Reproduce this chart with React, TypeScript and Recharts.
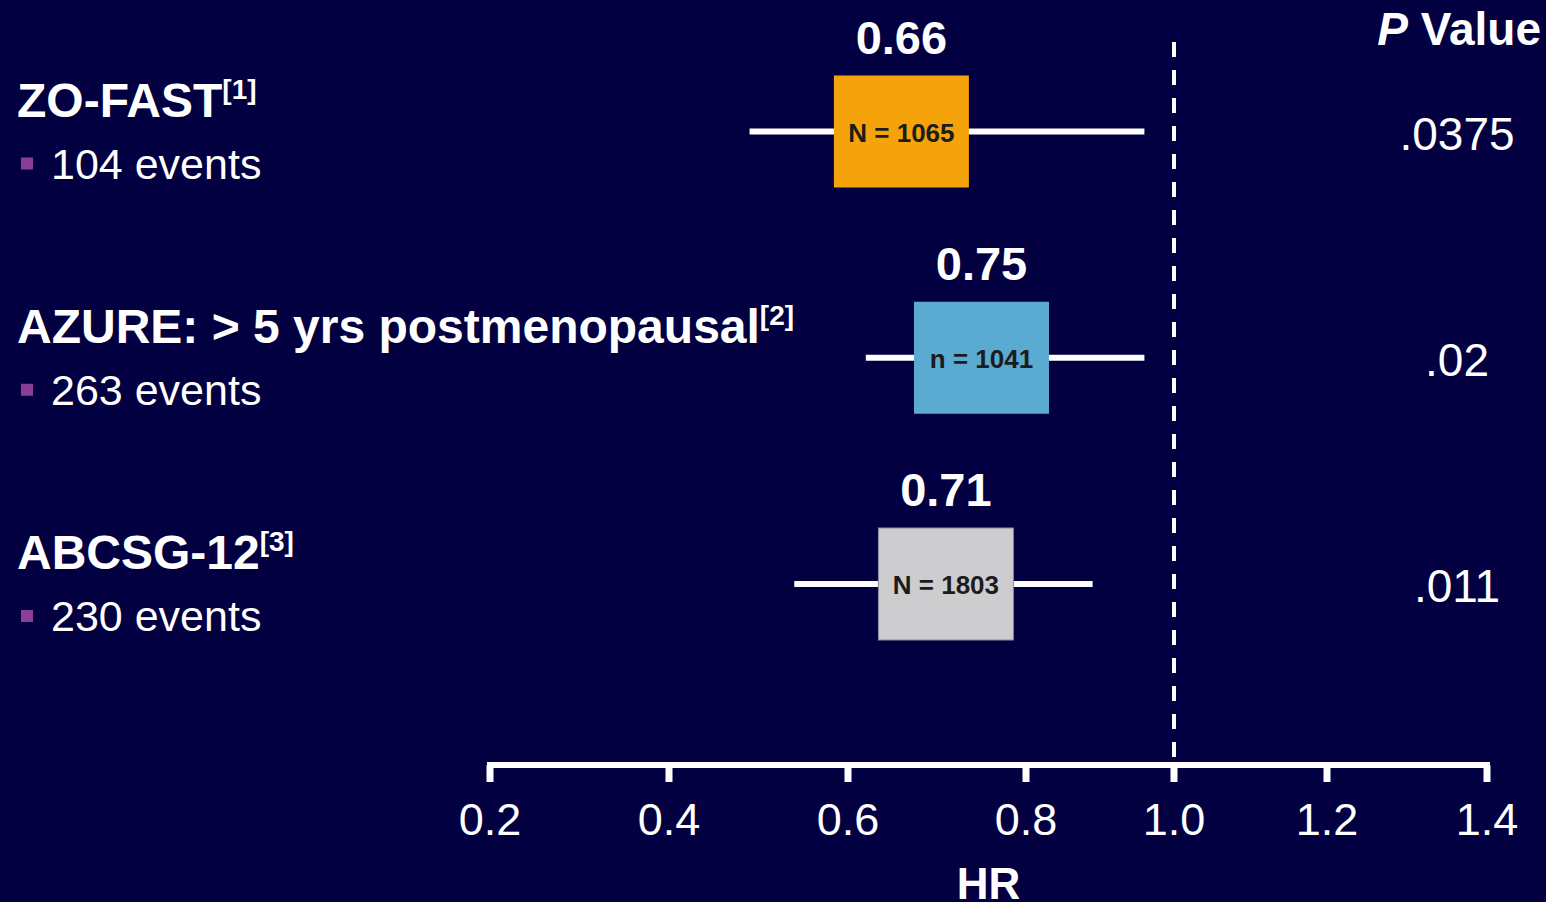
import React from "react";
import { ComposedChart, Scatter, XAxis, YAxis, ReferenceLine } from "recharts";

// studies, top to bottom
const ROWS = [1, 2, 3];
const STUDIES = ["ZO-FAST", "AZURE: > 5 yrs postmenopausal", "ABCSG-12"];
const REFS = ["[1]", "[2]", "[3]"];
const EVENTS = [104, 263, 230];
const SAMPLE = ["N = 1065", "n = 1041", "N = 1803"];
const HR = [0.66, 0.75, 0.71];
const CI_LOW = [0.49, 0.62, 0.54];
const CI_HIGH = [0.96, 0.96, 0.89];
const P_VALUES = [".0375", ".02", ".011"];
const HR_TICKS = [0.2, 0.4, 0.6, 0.8, 1.0, 1.2, 1.4];

// the slide's HR axis is not evenly spaced: tick offsets along the axis (px)
const TICK_OFFSETS = [0, 179, 358, 536, 684, 837, 997];

const BG = "#020040";
const WHITE = "#ffffff";
const BOX_FILL = ["#f5a30a", "#5aaad2", "#cdcdd0"];
const BOX_STROKE = ["none", "none", "#8a8aa0"];
const BULLET = "#8c3c9b";
const BOX_W = 135;
const BOX_H = 112;
const P_X = 1457;

// piecewise-linear scale through the axis ticks, shaped like a d3 scale
function hrScale(): any {
  let domain = [HR_TICKS[0], HR_TICKS[HR_TICKS.length - 1]];
  let range = [0, 1];
  const total = TICK_OFFSETS[TICK_OFFSETS.length - 1];
  const frac = (v: number) => {
    let i = 0;
    while (i < HR_TICKS.length - 2 && v > HR_TICKS[i + 1]) i++;
    const t = (v - HR_TICKS[i]) / (HR_TICKS[i + 1] - HR_TICKS[i]);
    return (TICK_OFFSETS[i] + t * (TICK_OFFSETS[i + 1] - TICK_OFFSETS[i])) / total;
  };
  const scale: any = (v: number) => range[0] + frac(v) * (range[1] - range[0]);
  scale.domain = (d?: number[]) => {
    if (!d) return domain.slice();
    domain = d.slice();
    return scale;
  };
  scale.range = (r?: number[]) => {
    if (!r) return range.slice();
    range = r.slice();
    return scale;
  };
  scale.invert = (px: number) => {
    const f = ((px - range[0]) / (range[1] - range[0])) * total;
    let i = 0;
    while (i < TICK_OFFSETS.length - 2 && f > TICK_OFFSETS[i + 1]) i++;
    const t = (f - TICK_OFFSETS[i]) / (TICK_OFFSETS[i + 1] - TICK_OFFSETS[i]);
    return HR_TICKS[i] + t * (HR_TICKS[i + 1] - HR_TICKS[i]);
  };
  scale.ticks = () => HR_TICKS.slice();
  scale.tickFormat = () => (v: number) => String(v);
  scale.nice = () => scale;
  scale.clamp = () => scale;
  scale.copy = () => hrScale().domain(domain).range(range);
  return scale;
}

const HR_SCALE = hrScale();

function StudyTick(props: any) {
  const { y, payload } = props;
  const i = ROWS.indexOf(payload.value);
  if (i < 0) return null;
  return (
    <g>
      <text x={17} y={y - 15} fontSize={48} fontWeight="bold" fill={WHITE}>
        {STUDIES[i]}
        <tspan dy={-18} fontSize={28}>
          {REFS[i]}
        </tspan>
      </text>
      <rect x={21} y={y + 26} width={12} height={12} fill={BULLET} />
      <text x={51} y={y + 47} fontSize={43} fill={WHITE}>
        {EVENTS[i] + " events"}
      </text>
    </g>
  );
}

function PValueTick(props: any) {
  const { y, payload } = props;
  const i = ROWS.indexOf(payload.value);
  if (i < 0) return null;
  return (
    <text x={P_X} y={y + 18} textAnchor="middle" fontSize={46} fill={WHITE}>
      {P_VALUES[i]}
    </text>
  );
}

function StudyBox(props: any) {
  const { cx, cy, payload } = props;
  const i = payload.idx;
  return (
    <g>
      <rect
        x={cx - BOX_W / 2}
        y={cy - BOX_H / 2}
        width={BOX_W}
        height={BOX_H}
        fill={BOX_FILL[i]}
        stroke={BOX_STROKE[i]}
        strokeWidth={1}
      />
      <text x={cx} y={cy + 10} textAnchor="middle" fontSize={26} fontWeight="bold" fill="#1c1c1c">
        {SAMPLE[i]}
      </text>
      <text x={cx} y={cy - BOX_H / 2 - 22} textAnchor="middle" fontSize={47} fontWeight="bold" fill={WHITE}>
        {HR[i].toFixed(2)}
      </text>
    </g>
  );
}

const boxData = ROWS.map((row, idx) => ({ hr: HR[idx], row, idx }));

export default function App() {
  return (
    <div
      style={{
        position: "absolute",
        left: 0,
        top: 0,
        width: 1546,
        height: 902,
        background: BG,
        fontFamily: '"Liberation Sans", Arial, sans-serif',
      }}
    >
      <ComposedChart width={1546} height={902} margin={{ top: 41, right: 0, bottom: 0, left: 0 }}>
        <XAxis
          type="number"
          dataKey="hr"
          scale={HR_SCALE}
          domain={[0.2, 1.4]}
          ticks={HR_TICKS}
          interval={0}
          allowDataOverflow
          tickFormatter={(v: number) => v.toFixed(1)}
          height={137}
          axisLine={{ stroke: WHITE, strokeWidth: 6, strokeLinecap: "square" }}
          tickLine={{ stroke: WHITE, strokeWidth: 7 }}
          tickSize={17}
          tickMargin={21}
          tick={{ fill: WHITE, fontSize: 45 }}
          label={{ value: "HR", position: "insideBottom", offset: 3, fill: WHITE, fontSize: 44, fontWeight: "bold" }}
        />
        <YAxis
          yAxisId="left"
          type="number"
          dataKey="row"
          domain={[0.6, 3.8]}
          reversed
          ticks={ROWS}
          interval={0}
          width={490}
          axisLine={false}
          tickLine={false}
          tick={(p: any) => <StudyTick {...p} />}
        />
        <YAxis
          yAxisId="right"
          orientation="right"
          type="number"
          dataKey="row"
          domain={[0.6, 3.8]}
          reversed
          ticks={ROWS}
          interval={0}
          width={59}
          axisLine={false}
          tickLine={false}
          tick={(p: any) => <PValueTick {...p} />}
          label={{
            content: () => (
              <text x={1541} y={45} textAnchor="end" fontSize={46} fontWeight="bold" fill={WHITE}>
                <tspan fontStyle="italic">{"P"}</tspan>
                {" Value"}
              </text>
            ),
          }}
        />
        <ReferenceLine
          yAxisId="left"
          x={1}
          stroke={WHITE}
          strokeWidth={4}
          strokeDasharray="15 13"
          strokeDashoffset={20}
        />
        {ROWS.map((row, i) => (
          <Scatter
            key={"ci" + i}
            yAxisId="left"
            data={[
              { hr: CI_LOW[i], row },
              { hr: CI_HIGH[i], row },
            ]}
            line={{ stroke: WHITE, strokeWidth: 6 }}
            shape={() => <g />}
            isAnimationActive={false}
          />
        ))}
        <Scatter yAxisId="left" data={boxData} shape={(p: any) => <StudyBox {...p} />} isAnimationActive={false} />
        {/* keeps the p-value axis tied to the study rows */}
        <Scatter yAxisId="right" data={boxData} shape={() => <g />} isAnimationActive={false} />
      </ComposedChart>
    </div>
  );
}
